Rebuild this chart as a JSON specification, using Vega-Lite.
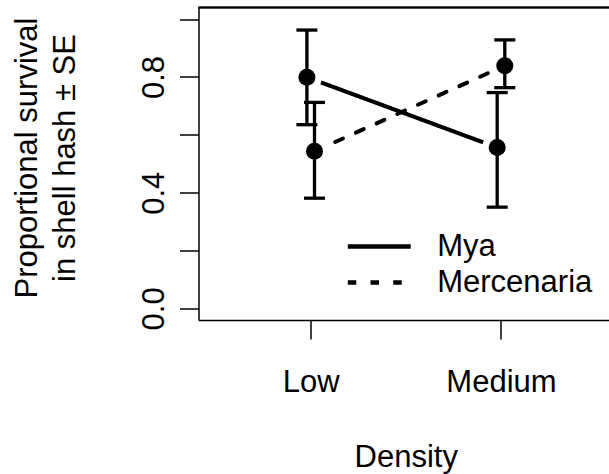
{
  "$schema": "https://vega.github.io/schema/vega-lite/v6.json",
  "autosize": {"type": "none"},
  "width": 410.5,
  "height": 312.5,
  "padding": {"left": 198.5, "top": 7.5, "right": 0, "bottom": 154},
  "background": "white",
  "config": {
    "view": {"stroke": null},
    "font": "Liberation Sans",
    "axis": {"grid": false, "domainColor": "black", "tickColor": "black", "domainWidth": 1.5, "tickWidth": 1.5, "labelColor": "black", "titleColor": "black", "labelFont": "Liberation Sans", "titleFont": "Liberation Sans", "labelFontSize": 31, "titleFontSize": 31, "titleFontWeight": "normal"}
  },
  "data": {
    "values": [
      {"density": "Low", "species": "Mya", "mean": 0.799, "lo": 0.635, "hi": 0.962},
      {"density": "Medium", "species": "Mya", "mean": 0.556, "lo": 0.350, "hi": 0.746},
      {"density": "Low", "species": "Mercenaria", "mean": 0.543, "lo": 0.381, "hi": 0.712},
      {"density": "Medium", "species": "Mercenaria", "mean": 0.839, "lo": 0.763, "hi": 0.928}
    ]
  },
  "encoding": {
    "x": {
      "field": "density", "type": "ordinal",
      "scale": {"type": "point", "domain": ["Low", "Medium"], "padding": 0.5786, "align": 0.5095},
      "axis": {"orient": "bottom", "labelAngle": 0, "tickSize": 19, "labelPadding": 52, "labelBaseline": "alphabetic", "title": "Density", "titleBaseline": "alphabetic", "titleX": 207.3, "titleY": 146, "titleAnchor": null}
    },
    "xOffset": {"field": "species", "type": "nominal", "scale": {"type": "point", "domain": ["Mya", "Mercenaria"], "range": [-3.8, 3.8], "padding": 0}},
    "y": {
      "field": "mean", "type": "quantitative",
      "scale": {"domain": [-0.04, 1.04], "nice": false, "zero": false},
      "axis": {"values": [0, 0.2, 0.4, 0.6, 0.8, 1.0], "tickSize": 19, "labelAngle": -90, "labelAlign": "center", "labelBaseline": "alphabetic", "labelPadding": 16.5,
        "labelExpr": "datum.value == 0 || datum.value == 0.4 || datum.value == 0.8 ? format(datum.value, '.1f') : ''",
        "title": ["Proportional survival", "in shell hash ± SE"], "titleAngle": -90, "titleBaseline": "alphabetic", "titleAlign": "center", "titleLineHeight": 38.3, "titleX": -161.8, "titleY": 150}
    }
  },
  "layer": [
    {
      "mark": {"type": "line", "color": "black", "strokeWidth": 4, "strokeCap": "round"},
      "encoding": {
        "strokeDash": {"field": "species", "type": "nominal",
          "scale": {"domain": ["Mya", "Mercenaria"], "range": [[1, 0], [8.5, 14.2]]},
          "legend": {"orient": "none", "legendX": 159.75, "legendY": 218, "title": null, "symbolType": "M-1.7,0H1.7", "symbolFillColor": "transparent", "symbolStrokeColor": "black", "symbolStrokeWidth": 4.5, "symbolSize": 1369, "labelFontSize": 31, "labelFont": "Liberation Sans", "labelColor": "black", "labelOffset": 36.95, "padding": 0, "rowPadding": 0}
        }
      }
    },
    {
      "mark": {"type": "point", "filled": true, "color": "white", "opacity": 1, "size": 908}
    },
    {
      "mark": {"type": "rule", "color": "black", "strokeWidth": 3.3},
      "encoding": {"y": {"field": "lo", "type": "quantitative"}, "y2": {"field": "hi"}}
    },
    {
      "mark": {"type": "tick", "color": "black", "thickness": 3.3, "size": 21, "opacity": 1},
      "encoding": {"y": {"field": "lo", "type": "quantitative"}}
    },
    {
      "mark": {"type": "tick", "color": "black", "thickness": 3.3, "size": 21, "opacity": 1},
      "encoding": {"y": {"field": "hi", "type": "quantitative"}}
    },
    {
      "mark": {"type": "point", "filled": true, "color": "black", "opacity": 1, "size": 290}
    },
    {
      "mark": {"type": "rule", "color": "black", "strokeWidth": 1.5},
      "encoding": {"x": {"value": 0}, "x2": {"value": 410.5}, "y": {"value": 0}, "xOffset": null}
    }
  ]
}
